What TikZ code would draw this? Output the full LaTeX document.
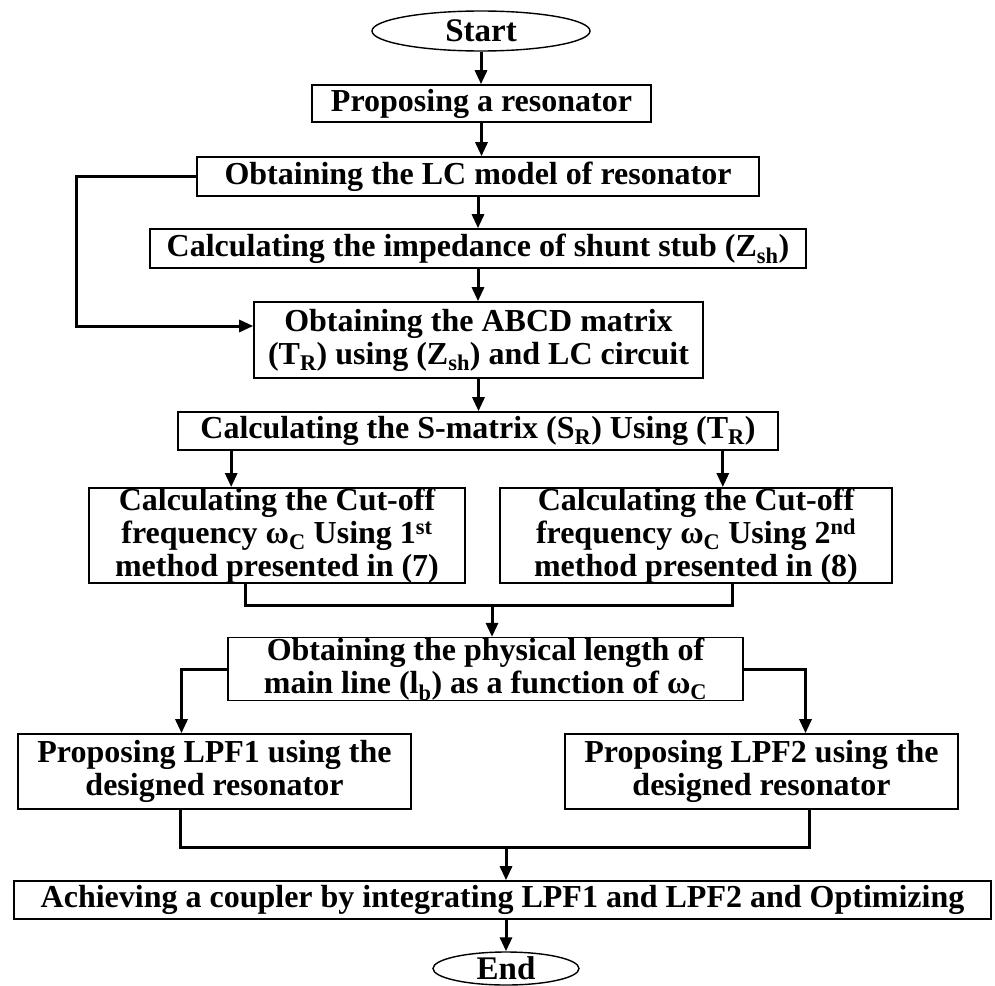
\documentclass[tikz,border=0pt]{standalone}
\usepackage{fontspec}
\setmainfont{Liberation Serif}
\usetikzlibrary{positioning,arrows.meta,calc,shapes.geometric}

\begin{document}
\begin{tikzpicture}[x=1pt, y=-1pt,
  box/.style={draw, line width=1.6pt, inner sep=0pt, align=center,
    font=\fontsize{32}{33}\selectfont\bfseries},
  term/.style={draw, ellipse, line width=1.4pt, inner sep=0pt,
    font=\fontsize{33}{33}\selectfont\bfseries},
  arr/.style={line width=3pt, -{Triangle[length=14pt,width=12pt]}},
  link/.style={line width=3pt}]
  \useasboundingbox (0,0) rectangle (995,985);
  % Upper chain
  \node[term, minimum width=218, minimum height=40] (start) at (481,31) {Start};
  \node[box, minimum width=339, minimum height=37] (propose) at (481.5,103.5) {Proposing a resonator};
  \node[box, minimum width=562, minimum height=39] (lcmodel) at (478,176.5) {Obtaining the LC model of resonator};
  \node[box, minimum width=656, minimum height=39] (zsh) at (478,248.5) {Calculating the impedance of shunt stub (Z\textsubscript{sh})};
  \node[box, minimum width=449, minimum height=76] (abcd) at (478.5,340)
    {Obtaining the ABCD matrix\\(T\textsubscript{R}) using (Z\textsubscript{sh}) and LC circuit};
  \node[box, minimum width=600, minimum height=38] (smatrix) at (478,431)
    {Calculating the S-matrix (S\textsubscript{R}) Using (T\textsubscript{R})};
  % Two cut-off methods
  \node[box, minimum width=376, minimum height=95] (cutA) at (277,535.5)
    {Calculating the Cut-off\\frequency ω\textsubscript{C} Using 1\textsuperscript{st}\\method presented in (7)};
  \node[box, minimum width=392, minimum height=95] (cutB) at (696,535.5)
    {Calculating the Cut-off\\frequency ω\textsubscript{C} Using 2\textsuperscript{nd}\\method presented in (8)};
  \node[box, minimum width=515, minimum height=62] (physlen) at (485.5,669)
    {Obtaining the physical length of\\main line (l\textsubscript{b}) as a function of ω\textsubscript{C}};
  % Two filters
  \node[box, minimum width=393, minimum height=75] (lpfA) at (214.5,771.5)
    {Proposing LPF1 using the\\designed resonator};
  \node[box, minimum width=393, minimum height=75] (lpfB) at (761.5,771.5)
    {Proposing LPF2 using the\\designed resonator};
  \node[box, minimum width=977, minimum height=38] (couple) at (502.5,900)
    {Achieving a coupler by integrating LPF1 and LPF2 and Optimizing};
  \node[term, minimum width=146, minimum height=33] (finish) at (506,968.5) {End};

  % Straight arrows
  \draw[arr] (start.south) -- (start.south |- propose.north);
  \draw[arr] (propose.south) -- (propose.south |- lcmodel.north);
  \draw[arr] (lcmodel.south) -- (lcmodel.south |- zsh.north);
  \draw[arr] (zsh.south) -- (zsh.south |- abcd.north);
  \draw[arr] (abcd.south) -- (abcd.south |- smatrix.north);
  % Feedback from LC model
  \coordinate (fb) at (76,326);
  \draw[arr] (lcmodel.west) -| (fb) -- (fb -| abcd.west);
  % Split to the two methods
  \coordinate (sA) at ([xshift=54]smatrix.south west);
  \coordinate (sB) at ([xshift=-56]smatrix.south east);
  \draw[arr] (sA) -- (sA |- cutA.north);
  \draw[arr] (sB) -- (sB |- cutB.north);
  % Merge into physical length
  \draw[link] ([xshift=-32]cutA.south) -- ++(0,22) -| ([xshift=36]cutB.south);
  \coordinate (j1) at (492,605);
  \draw[arr] (j1) -- (j1 |- physlen.north);
  % Split to the filters
  \draw[arr] (physlen.west) -| ([xshift=-33]lpfA.north);
  \draw[arr] (physlen.east) -| ([xshift=44]lpfB.north);
  % Merge into coupler
  \draw[link] ([xshift=-34]lpfA.south) -- ++(0,38) -| ([xshift=48]lpfB.south);
  \coordinate (j2) at (506,847);
  \draw[arr] (j2) -- (j2 |- couple.north);
  \draw[arr] (couple.south -| finish.north) -- (finish.north);
\end{tikzpicture}
\end{document}
